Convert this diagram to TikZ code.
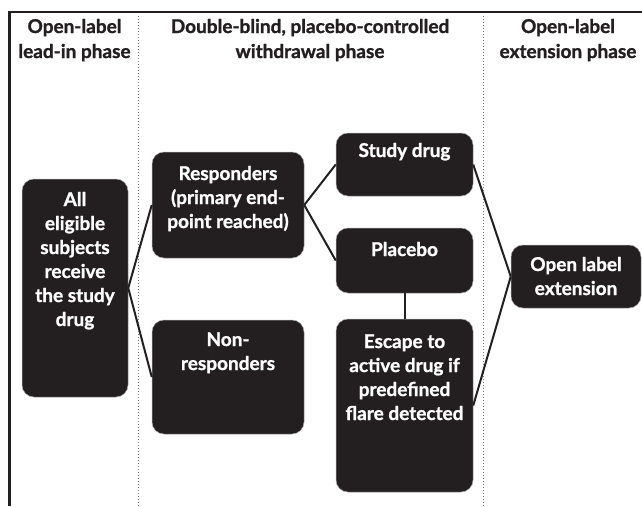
\documentclass[tikz,border=0pt]{standalone}
\usepackage{fontspec}
\setmainfont{Lato}[BoldFeatures={FakeBold=1.2}]
\usetikzlibrary{positioning, calc}
\definecolor{boxfill}{RGB}{35,31,32}
\definecolor{divgrey}{RGB}{125,125,125}
\tikzset{%
	stage/.style={draw=gray!70, line width=0.5pt, fill=boxfill, rectangle,%
		rounded corners=12pt, inner sep=0pt},
	txt/.style={text=white, font=\bfseries\fontsize{19}{24}\selectfont,%
		align=center, anchor=base, inner sep=0pt},
	head/.style={text=boxfill, font=\bfseries\fontsize{19}{25}\selectfont,%
		align=center, anchor=base, inner sep=0pt},
	connector/.style={line width=2pt, boxfill},
	frame/.style={line width=2.5pt, boxfill},
	divider/.style={divgrey, line width=1pt, dash pattern=on 1pt off 2pt}
}

\begin{document}
\begin{tikzpicture}[x=1pt, y=-1pt]
	\useasboundingbox (0,0) rectangle (642,506);

	% frame and phase dividers
	\draw[frame] (9.5,506) -- (9.5,12) -- (642,12);
	\draw[divider] (138,16) -- (138,506);
	\draw[divider] (483,16) -- (483,506);

	% phase headings (placed at the baseline of their last line)
	\node[head] (leadin) at (74.5,58) {Open-label\\lead-in phase};
	\node[head] (withdraw) at (310,58) {Double-blind, placebo-controlled\\withdrawal phase};
	\node[head] (extend) at (568,58) {Open-label\\extension phase};

	% boxes
	\node[stage, minimum width=106pt, minimum height=218pt] (all) at (75,288) {};
	\node[stage, minimum width=152pt, minimum height=106pt] (resp) at (228,205) {};
	\node[stage, minimum width=152pt, minimum height=114pt] (nonresp) at (228,377) {};
	\node[stage, minimum width=137pt, minimum height=63pt] (study) at (404.5,164.5) {};
	\node[stage, minimum width=137pt, minimum height=65pt] (placebo) at (404.5,260.5) {};
	\node[stage, minimum width=137pt, minimum height=173pt] (escape) at (404.5,405.5) {};
	\node[stage, minimum width=130pt, minimum height=63pt] (openext) at (576,276.5) {};

	% box texts
	\node[txt] (allt) at (75,326) {All\\eligible\\subjects\\receive\\the study\\drug};
	\node[txt] (respt) at (228,228) {Responders\\(primary end-\\point reached)};
	\node[txt] (nonrespt) at (228,370) {Non-\\responders};
	\node[txt] (studyt) at (404.5,157) {Study drug};
	\node[txt] (placebot) at (404.5,256) {Placebo};
	\node[txt] (escapet) at (404.5,420) {Escape to\\active drug if\\predefined\\flare detected};
	\node[txt] (openextt) at (576,295) {Open label\\extension};

	\draw[connector] (all.east) -- (resp.west);
	\draw[connector] (all.east) -- (nonresp.west);
	\draw[connector] (resp.east) -- (study.west);
	\draw[connector] (resp.east) -- (placebo.west);
	\draw[connector] (placebo.south) -- (escape.north);
	\draw[connector] (study.east) -- (openext.west);
	\draw[connector] (escape.east) -- (openext.west);
\end{tikzpicture}
\end{document}
